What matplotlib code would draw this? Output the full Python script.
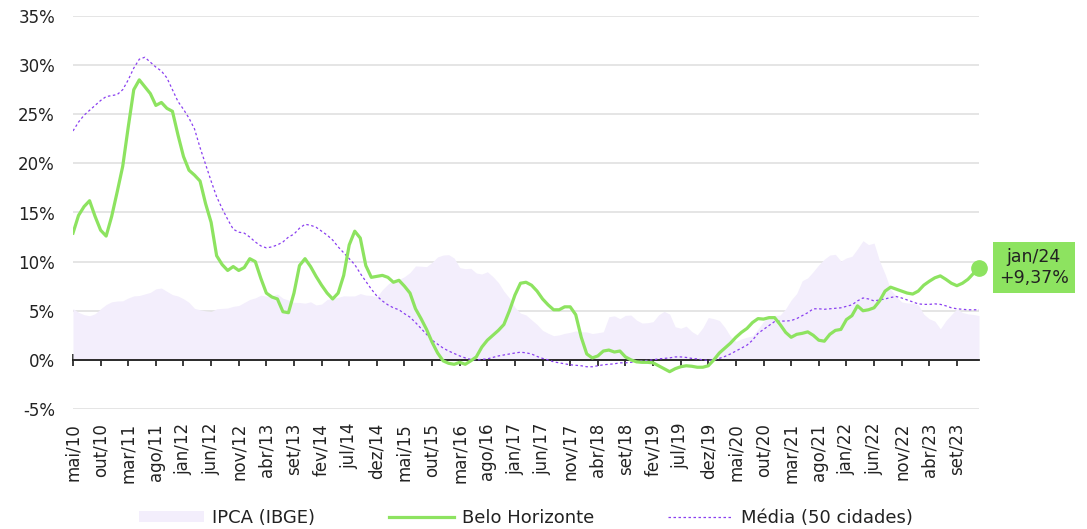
import matplotlib.pyplot as plt
from matplotlib.patches import Patch
from matplotlib.lines import Line2D
import numpy as np

plt.rcParams["font.family"] = "DejaVu Sans"

# variação acumulada em 12 meses (%), mensal de mai/10 a jan/24
ipca = [
    5.22, 4.84, 4.60, 4.49, 4.70, 5.20, 5.63, 5.91,
    5.99, 6.01, 6.30, 6.51, 6.55, 6.71, 6.87, 7.23, 7.31, 6.97, 6.64, 6.50,
    6.22, 5.85, 5.24, 5.10, 4.99, 4.92, 5.20, 5.24, 5.28, 5.45, 5.53, 5.84,
    6.15, 6.31, 6.59, 6.49, 6.50, 6.70, 6.27, 6.09, 5.86, 5.84, 5.77, 5.91,
    5.59, 5.68, 6.15, 6.28, 6.37, 6.52, 6.50, 6.51, 6.75, 6.59, 6.56, 6.41,
    7.14, 7.70, 8.13, 8.17, 8.47, 8.89, 9.56, 9.53, 9.49, 9.93, 10.48, 10.67,
    10.71, 10.36, 9.39, 9.28, 9.32, 8.84, 8.74, 8.97, 8.48, 7.87, 6.99, 6.29,
    5.35, 4.76, 4.57, 4.08, 3.60, 3.00, 2.71, 2.46, 2.54, 2.70, 2.80, 2.95,
    2.86, 2.84, 2.68, 2.76, 2.86, 4.39, 4.48, 4.19, 4.53, 4.56, 4.05, 3.75,
    3.78, 3.89, 4.58, 4.94, 4.66, 3.37, 3.22, 3.43, 2.89, 2.54, 3.27, 4.31,
    4.19, 4.01, 3.30, 2.40, 1.88, 2.13, 2.31, 2.44, 3.14, 3.92, 4.31, 4.52,
    4.56, 5.20, 6.10, 6.76, 8.06, 8.35, 8.99, 9.68, 10.25, 10.67, 10.74, 10.06,
    10.38, 10.54, 11.30, 12.13, 11.73, 11.89, 10.07, 8.73, 7.17, 6.47, 5.90, 5.79,
    5.77, 5.60, 4.65, 4.18, 3.94, 3.16, 3.99, 4.61, 5.19, 4.82, 4.68, 4.62,
    4.51,
]

bh = [
    12.9, 14.7, 15.6, 16.2, 14.6, 13.2, 12.6, 14.6, 17.1, 19.7,
    23.7, 27.5, 28.5, 27.8, 27.1, 25.9, 26.2, 25.6, 25.3, 22.9,
    20.7, 19.3, 18.8, 18.2, 15.9, 14.0, 10.6, 9.7, 9.1, 9.5,
    9.1, 9.4, 10.3, 10.0, 8.3, 6.8, 6.4, 6.2, 4.9, 4.8,
    6.8, 9.6, 10.3, 9.5, 8.5, 7.6, 6.8, 6.2, 6.8, 8.6,
    11.7, 13.1, 12.4, 9.6, 8.4, 8.5, 8.6, 8.4, 7.9, 8.1,
    7.5, 6.8, 5.2, 4.2, 3.1, 1.8, 0.7, -0.1, -0.35, -0.45,
    -0.25, -0.45, -0.1, 0.3, 1.3, 2.0, 2.5, 3.0, 3.6, 5.0,
    6.6, 7.8, 7.9, 7.6, 7.0, 6.2, 5.6, 5.1, 5.1, 5.4,
    5.4, 4.6, 2.3, 0.6, 0.2, 0.4, 0.9, 1.0, 0.8, 0.9,
    0.3, 0.0, -0.2, -0.25, -0.25, -0.3, -0.6, -0.9, -1.2, -0.9,
    -0.7, -0.6, -0.65, -0.75, -0.75, -0.6, 0.0, 0.7, 1.2, 1.7,
    2.3, 2.8, 3.2, 3.8, 4.2, 4.15, 4.3, 4.3, 3.6, 2.8,
    2.3, 2.6, 2.7, 2.85, 2.5, 2.0, 1.9, 2.6, 3.0, 3.1,
    4.1, 4.5, 5.5, 5.0, 5.1, 5.3, 6.0, 7.0, 7.4, 7.2,
    7.0, 6.8, 6.7, 7.0, 7.6, 8.0, 8.35, 8.55, 8.2, 7.8,
    7.55, 7.8, 8.2, 8.8, 9.37,
]

media = [
    23.3, 24.2, 24.9, 25.4, 25.9, 26.4, 26.8, 26.9, 27.0, 27.5,
    28.5, 29.7, 30.6, 30.8, 30.3, 29.8, 29.4, 28.7, 27.5, 26.3,
    25.5, 24.6, 23.5, 21.6, 19.9, 18.2, 16.6, 15.4, 14.3, 13.3,
    13.0, 12.9, 12.5, 12.0, 11.6, 11.4, 11.5, 11.7, 12.0, 12.5,
    12.8, 13.4, 13.8, 13.7, 13.5, 13.1, 12.7, 12.2, 11.5, 10.9,
    10.3, 9.7, 8.8, 8.0, 7.2, 6.5, 6.0, 5.6, 5.3, 5.1,
    4.7, 4.35, 3.8, 3.2, 2.6, 2.0, 1.6, 1.2, 0.9, 0.65,
    0.4, 0.2, 0.05, 0.0, 0.05, 0.1, 0.25, 0.4, 0.5, 0.6,
    0.7, 0.78, 0.72, 0.6, 0.35, 0.15, 0.0, -0.2, -0.3, -0.4,
    -0.5, -0.55, -0.6, -0.7, -0.7, -0.6, -0.5, -0.45, -0.4, -0.3,
    -0.3, -0.25, -0.2, -0.1, -0.05, 0.0, 0.1, 0.15, 0.2, 0.3,
    0.3, 0.25, 0.15, 0.1, 0.0, -0.05, 0.0, 0.15, 0.35, 0.6,
    0.9, 1.2, 1.5, 2.0, 2.7, 3.1, 3.5, 3.9, 3.95, 3.95,
    4.0, 4.2, 4.5, 4.8, 5.2, 5.2, 5.15, 5.2, 5.25, 5.3,
    5.45, 5.6, 6.0, 6.3, 6.2, 6.0, 6.1, 6.2, 6.35, 6.45,
    6.3, 6.1, 5.9, 5.7, 5.65, 5.65, 5.7, 5.65, 5.5, 5.3,
    5.2, 5.15, 5.1, 5.1, 5.1,
]

tick_labels = [
    "mai/10", "out/10", "mar/11", "ago/11", "jan/12", "jun/12", "nov/12",
    "abr/13", "set/13", "fev/14", "jul/14", "dez/14", "mai/15", "out/15",
    "mar/16", "ago/16", "jan/17", "jun/17", "nov/17", "abr/18", "set/18",
    "fev/19", "jul/19", "dez/19", "mai/20", "out/20", "mar/21", "ago/21",
    "jan/22", "jun/22", "nov/22", "abr/23", "set/23",
]
series_labels = ["IPCA (IBGE)", "Belo Horizonte", "Média (50 cidades)"]
last_label = "jan/24\n+9,37%"

GREEN = "#8de360"
PURPLE = "#8a3ff0"
AREA = "#f3eefc"
TEXT = "#222222"

fig = plt.figure(figsize=(10.87, 5.29), dpi=100)
ax = fig.add_axes([73 / 1087, 1 - 409 / 529, (979 - 73) / 1087, (409 - 16) / 529])

x = np.arange(len(bh))
ticks = x[::5]

ax.fill_between(x, 0, ipca, color=AREA, lw=0, zorder=1)
ax.plot(x, media, color=PURPLE, lw=0.9, ls=(0, (2, 2)), zorder=3)
ax.plot(x, bh, color=GREEN, lw=2.3, zorder=4, solid_joinstyle="round")
ax.plot(x[-1], bh[-1], "o", ms=11, color=GREEN, zorder=5, clip_on=False)

ax.set_xlim(0, len(bh) - 1)
ax.set_ylim(-5, 35)
ax.set_yticks(range(-5, 40, 5))
ax.yaxis.set_major_formatter(lambda v, p: f"{v:.0f}%")
ax.grid(axis="y", color="#e0e0e0", lw=1.2)
ax.set_axisbelow(True)
for s in ["top", "right", "left"]:
    ax.spines[s].set_visible(False)
ax.spines["bottom"].set_position(("data", 0))
ax.spines["bottom"].set_color("#1a1a1a")
ax.spines["bottom"].set_linewidth(1.3)
ax.spines["bottom"].set_zorder(2.5)
ax.set_xticks(ticks)
ax.tick_params(axis="x", direction="inout", length=8, width=1.2,
               color="#1a1a1a", labelbottom=False)
ax.tick_params(axis="y", length=0, pad=13, labelsize=12, labelcolor=TEXT)

sec = ax.secondary_xaxis("bottom")
sec.set_xticks(ticks, labels=tick_labels, rotation=90)
sec.tick_params(length=0, pad=10, labelsize=12, labelcolor=TEXT)
sec.spines["bottom"].set_visible(False)

ax.annotate(last_label, xy=(x[-1], bh[-1]), xytext=(20, 0),
            textcoords="offset pixels", ha="left", va="center",
            fontsize=12.5, color=TEXT, multialignment="center",
            bbox=dict(boxstyle="square,pad=0.35", fc=GREEN, ec="none"),
            annotation_clip=False)

handles = [
    Patch(fc=AREA, ec="none"),
    Line2D([], [], color=GREEN, lw=2.3),
    Line2D([], [], color=PURPLE, lw=0.9, ls=(0, (2, 2))),
]
leg = ax.legend(handles, series_labels, loc="center", bbox_to_anchor=(0.5, -0.277),
                ncol=3, frameon=False, fontsize=13, handlelength=3.6,
                handletextpad=0.45, columnspacing=4.1, handleheight=0.55)
for t in leg.get_texts():
    t.set_color(TEXT)

fig.savefig("out.png", dpi=100)
